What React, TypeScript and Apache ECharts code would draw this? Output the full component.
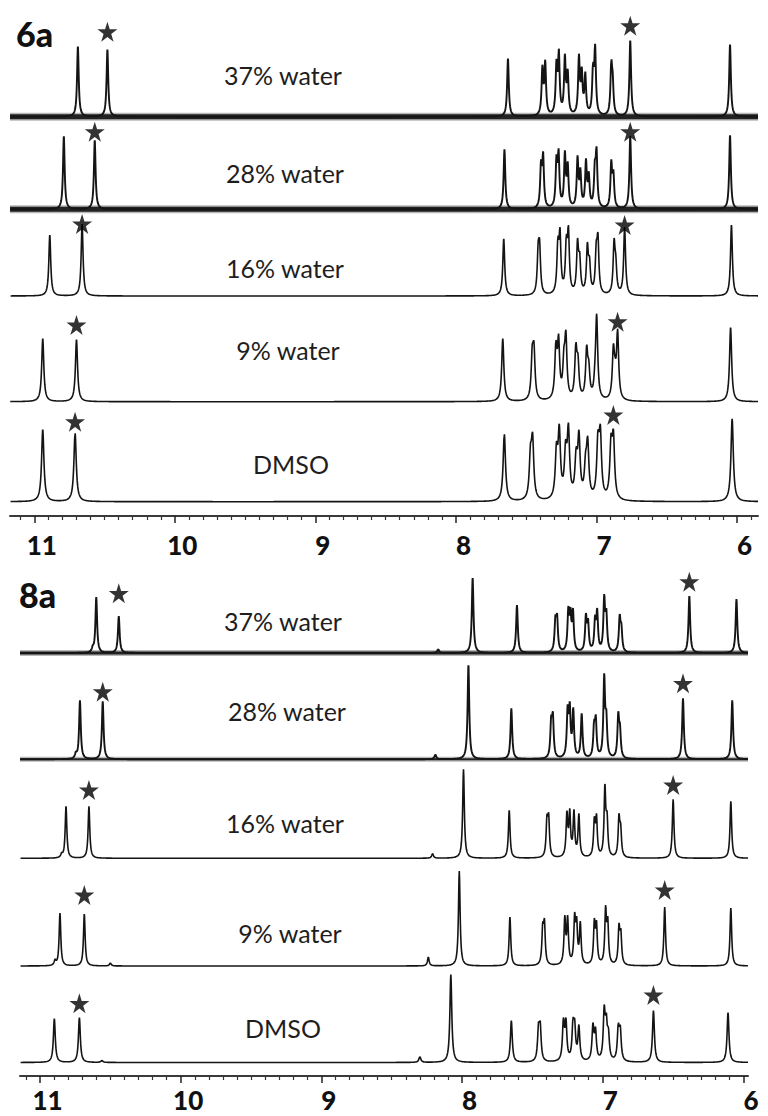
import React, { useEffect, useRef } from "react";
import * as echarts from "echarts";

// [chemical shift (ppm), peak height above the trace's own baseline]
type Peak = [number, number];

// ---- shared axis values ----
const MAJOR_TICKS = [6, 7, 8, 9, 10, 11];
const SAMPLE_LABELS = ["37% water", "28% water", "16% water", "9% water", "DMSO"];
const PANEL_LABELS = ["6a", "8a"];

// ---- 6a ----
const RANGE_6A: [number, number] = [5.851, 11.173];
const BASE_6A = [399.3, 306.7, 220, 114.3, 14.3];
const HWHM_6A = [0.007, 0.007, 0.008, 0.009, 0.01];
const NOISE_6A = [6, 6, 0, 0, 0];

const P6A_37: Peak[] = [
  [10.69, 70], [10.48, 67], [7.63, 58], [7.385, 52], [7.365, 57], [7.285, 58], [7.268, 68],
  [7.225, 63], [7.205, 48], [7.125, 63], [7.105, 50], [7.08, 45], [7.025, 55], [7.01, 73],
  [6.895, 58], [6.885, 45], [6.76, 76], [6.05, 72],
];
const P6A_28: Peak[] = [
  [10.79, 73], [10.57, 69], [7.655, 60], [7.395, 50], [7.38, 58], [7.285, 55], [7.27, 61],
  [7.225, 59], [7.205, 48], [7.135, 54], [7.115, 42], [7.075, 51], [7.055, 38], [7.012, 50],
  [7.0, 63], [6.895, 50], [6.88, 40], [6.76, 73], [6.05, 74],
];
const P6A_16: Peak[] = [
  [10.89, 61], [10.66, 72], [7.66, 57], [7.415, 55], [7.405, 57], [7.275, 60], [7.26, 69],
  [7.215, 62], [7.2, 71], [7.135, 58], [7.12, 45], [7.065, 54], [7.05, 40], [7.002, 55],
  [6.99, 64], [6.875, 58], [6.863, 42], [6.8, 69], [6.04, 71],
];
const P6A_09: Peak[] = [
  [10.94, 63], [10.7, 62], [7.667, 63], [7.457, 58], [7.445, 60], [7.289, 62], [7.27, 68],
  [7.232, 55], [7.218, 72], [7.147, 60], [7.132, 48], [7.07, 57], [7.055, 42], [7.011, 43],
  [6.999, 88], [6.88, 58], [6.868, 45], [6.85, 73], [6.046, 74],
];
const P6A_DM: Peak[] = [
  [10.94, 72], [10.71, 69], [7.656, 68], [7.47, 58], [7.455, 70], [7.285, 60], [7.265, 78],
  [7.22, 62], [7.2, 79], [7.145, 55], [7.125, 72], [7.078, 50], [7.063, 66], [6.99, 72],
  [6.973, 78], [6.897, 68], [6.88, 73], [6.035, 83],
];
const PEAKS_6A = [P6A_37, P6A_28, P6A_16, P6A_09, P6A_DM];
// starred signals: [ppm, star height above the trace baseline]
const STARS_6A: Peak[] = [
  [10.48, 85], [6.76, 91], [10.57, 77.6], [6.76, 77.6], [10.66, 72], [6.8, 71],
  [10.7, 76.7], [6.85, 80], [10.71, 80], [6.88, 86.7],
];

// ---- 8a ----
const RANGE_8A: [number, number] = [5.968, 11.142];
const BASE_8A = [423, 316.7, 217.7, 110, 13.5];
const HWHM_8A = [0.007, 0.007, 0.007, 0.007, 0.008];
const NOISE_8A = [4, 3, 0, 0, 0];

const P8A_37: Peak[] = [
  [10.625, 8], [10.6, 56], [10.44, 37], [8.17, 4], [7.925, 75], [7.61, 48], [7.337, 38],
  [7.325, 40], [7.245, 47], [7.23, 46], [7.212, 45], [7.12, 40], [7.105, 35], [7.055, 38],
  [7.04, 45], [6.99, 59], [6.975, 45], [6.88, 39], [6.868, 30], [6.385, 57], [6.05, 54],
];
const P8A_28: Peak[] = [
  [10.745, 8], [10.716, 59], [10.554, 58], [8.19, 5], [7.955, 94], [7.65, 51], [7.367, 44],
  [7.355, 48], [7.25, 55], [7.235, 58], [7.21, 52], [7.15, 46], [7.062, 40], [7.05, 45],
  [6.99, 86], [6.975, 50], [6.89, 48], [6.878, 36], [6.43, 61], [6.08, 59],
];
const P8A_16: Peak[] = [
  [10.846, 6], [10.815, 52], [10.652, 52], [8.21, 5], [7.99, 89], [7.665, 48], [7.397, 44],
  [7.385, 46], [7.255, 48], [7.235, 50], [7.205, 49], [7.17, 45], [7.06, 42], [7.045, 45],
  [6.985, 75], [6.97, 48], [6.885, 45], [6.873, 35], [6.5, 59], [6.09, 57],
];
const P8A_09: Peak[] = [
  [10.893, 7], [10.858, 53], [10.685, 52], [10.5, 3], [8.24, 9], [8.02, 95], [7.66, 49],
  [7.427, 44], [7.415, 48], [7.27, 51], [7.25, 51], [7.2, 54], [7.186, 50], [7.16, 45],
  [7.06, 48], [7.045, 46], [6.98, 61], [6.965, 50], [6.885, 43], [6.872, 38], [6.56, 59],
  [6.09, 58],
];
const P8A_DM: Peak[] = [
  [10.898, 44], [10.72, 45], [10.56, 2], [8.3, 6], [8.08, 88], [7.65, 42], [7.457, 40],
  [7.445, 42], [7.28, 45], [7.262, 45], [7.212, 45], [7.2, 44], [7.17, 38], [7.07, 40],
  [7.052, 36], [6.99, 58], [6.975, 50], [6.96, 35], [6.89, 40], [6.876, 38], [6.64, 52],
  [6.11, 50],
];
const PEAKS_8A = [P8A_37, P8A_28, P8A_16, P8A_09, P8A_DM];
const STARS_8A: Peak[] = [
  [10.44, 59.7], [6.385, 71.3], [10.554, 67.6], [6.43, 76], [10.652, 68.3], [6.5, 73.3],
  [10.685, 71], [6.56, 76], [10.72, 59.2], [6.64, 67.5],
];

// ---- line shape ----
const lorentz = (d: number, w: number) => 1 / (1 + (d / w) * (d / w));

// Solve for line amplitudes so that the summed trace peaks at the listed heights.
function amplitudes(peaks: Peak[], w: number): number[] {
  const a = peaks.map((p) => p[1]);
  for (let it = 0; it < 80; it++) {
    for (let i = 0; i < peaks.length; i++) {
      let s = 0;
      for (let j = 0; j < peaks.length; j++) {
        if (j !== i) s += a[j] * lorentz(peaks[i][0] - peaks[j][0], w);
      }
      a[i] = Math.max(0, peaks[i][1] - s);
    }
  }
  return a;
}

function signal(x: number, peaks: Peak[], amp: number[], w: number) {
  let s = 0;
  for (let j = 0; j < peaks.length; j++) s += amp[j] * lorentz(x - peaks[j][0], w);
  return s;
}

function trace(peaks: Peak[], w: number, base: number, range: [number, number]) {
  const amp = amplitudes(peaks, w);
  const xs: number[] = [];
  for (let x = range[0]; x <= range[1]; x += 0.002) xs.push(x);
  peaks.forEach((p) => xs.push(p[0]));
  xs.sort((u, v) => u - v);
  return xs.map((x) => [x, base + signal(x, peaks, amp, w)]);
}

const STAR_PATH =
  "path://M50,0 L61.2,34.5 L97.6,34.5 L68.2,55.9 L79.4,90.5 L50,69.1 L20.6,90.5 L31.8,55.9 L2.4,34.5 L38.8,34.5 Z";

const FONT = "Lato, 'Open Sans', 'Liberation Sans', sans-serif";
const INK = "#141414";

function panelSeries(
  panel: number,
  peaksList: Peak[][],
  bases: number[],
  widths: number[],
  noise: number[],
  stars: Peak[],
  range: [number, number]
) {
  const series: any[] = [];
  const starData: number[][] = [];
  peaksList.forEach((peaks, i) => {
    const data = trace(peaks, widths[i], bases[i], range);
    const flat = [[range[0], bases[i]], [range[1], bases[i]]];
    if (noise[i] > 0) {
      // baseline noise: a soft outer band and a dark core
      series.push({
        type: "line",
        xAxisIndex: panel * 2,
        yAxisIndex: panel,
        data: flat,
        showSymbol: false,
        silent: true,
        clip: false,
        z: 2,
        lineStyle: { color: "#333", width: noise[i] + 2, opacity: 0.35 },
      });
      series.push({
        type: "line",
        xAxisIndex: panel * 2,
        yAxisIndex: panel,
        data: flat,
        showSymbol: false,
        silent: true,
        clip: false,
        z: 2,
        lineStyle: { color: "#151515", width: noise[i] - 1, opacity: 0.92 },
      });
    }
    series.push({
      type: "line",
      xAxisIndex: panel * 2,
      yAxisIndex: panel,
      data,
      showSymbol: false,
      silent: true,
      clip: false,
      z: 3,
      lineStyle: { color: INK, width: noise[i] > 0 ? 1.9 : 1.6 },
    });
    for (let k = 0; k < 2; k++) {
      const s = stars[i * 2 + k];
      starData.push([s[0], bases[i] + s[1]]);
    }
  });
  series.push({
    type: "scatter",
    xAxisIndex: panel * 2,
    yAxisIndex: panel,
    data: starData,
    symbol: STAR_PATH,
    symbolSize: 20,
    itemStyle: { color: "#000" },
    silent: true,
    clip: false,
    z: 5,
  });
  return series;
}

function xAxes(grid: number, range: [number, number], labelMargin: number) {
  const minor: number[] = [];
  for (let v = Math.ceil(range[0] * 10); v <= Math.floor(range[1] * 10); v++) {
    if (v % 10 !== 0) minor.push(v / 10);
  }
  return [
    {
      type: "value",
      gridIndex: grid,
      min: range[0],
      max: range[1],
      inverse: true,
      position: "bottom",
      axisLine: { onZero: false, lineStyle: { color: "#3a3a3a", width: 2 } },
      axisTick: { customValues: MAJOR_TICKS, length: 7, lineStyle: { color: "#222", width: 1.5 } },
      axisLabel: {
        customValues: MAJOR_TICKS,
        margin: labelMargin,
        padding: [0, 0, 0, 15],
        lineHeight: 22,
        color: "#111",
        fontFamily: FONT,
        fontWeight: 900,
        fontSize: 26,
      },
      splitLine: { show: false },
    },
    {
      type: "value",
      gridIndex: grid,
      min: range[0],
      max: range[1],
      inverse: true,
      position: "bottom",
      axisLine: { show: false, onZero: false },
      axisTick: { customValues: minor, length: 4, lineStyle: { color: "#333", width: 1.2 } },
      axisLabel: { show: false },
      splitLine: { show: false },
    },
  ];
}

const LABEL_POS_6A = [[283, 75], [285, 173], [285, 268], [288, 350], [291, 464]];
const LABEL_POS_8A = [[283, 621], [287, 711], [285, 823], [290, 933], [283, 1028]];

export default function App() {
  const ref = useRef<HTMLDivElement>(null);

  useEffect(() => {
    document.body.style.margin = "0";
    if (!ref.current) return;
    const chart = echarts.init(ref.current, undefined, { renderer: "svg" });

    const sampleText = (pos: number[][]) =>
      SAMPLE_LABELS.map((t, i) => ({
        type: "text",
        x: pos[i][0],
        y: pos[i][1],
        style: {
          text: t,
          fill: "#1e1e1e",
          font: `400 25px ${FONT}`,
          textAlign: "center",
          textVerticalAlign: "middle",
        },
      }));

    chart.setOption({
      animation: false,
      backgroundColor: "#ffffff",
      grid: [
        { left: 10, width: 748, top: 0, height: 516 },
        { left: 20, width: 728, top: 560, height: 516 },
      ],
      xAxis: [...xAxes(0, RANGE_6A, 18), ...xAxes(1, RANGE_8A, 13)],
      yAxis: [
        { type: "value", gridIndex: 0, min: 0, max: 516, show: false },
        { type: "value", gridIndex: 1, min: 0, max: 516, show: false },
      ],
      series: [
        ...panelSeries(0, PEAKS_6A, BASE_6A, HWHM_6A, NOISE_6A, STARS_6A, RANGE_6A),
        ...panelSeries(1, PEAKS_8A, BASE_8A, HWHM_8A, NOISE_8A, STARS_8A, RANGE_8A),
      ],
      graphic: [
        ...sampleText(LABEL_POS_6A),
        ...sampleText(LABEL_POS_8A),
        {
          type: "text",
          x: 16,
          y: 33,
          style: { text: PANEL_LABELS[0], fill: "#111", font: `900 34px ${FONT}`, textVerticalAlign: "middle" },
        },
        {
          type: "text",
          x: 19,
          y: 594,
          style: { text: PANEL_LABELS[1], fill: "#111", font: `900 34px ${FONT}`, textVerticalAlign: "middle" },
        },
      ],
    });

    return () => chart.dispose();
  }, []);

  return <div ref={ref} style={{ width: 768, height: 1116 }} />;
}
